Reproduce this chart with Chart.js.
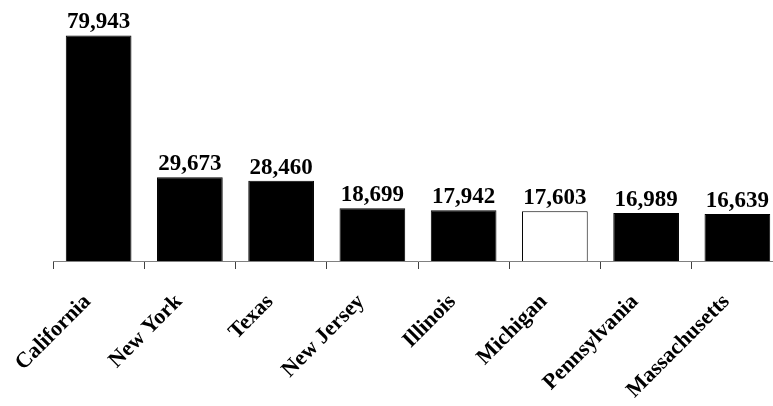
<!DOCTYPE html>
<html>
<head>
<meta charset="utf-8">
<script src="https://cdn.jsdelivr.net/npm/chart.js@4.4.1/dist/chart.umd.min.js"></script>
<style>
html,body{margin:0;padding:0;background:#fff;overflow:hidden;width:773px;height:406px;}
#wrap{width:800px;height:406px;}
</style>
</head>
<body>
<div id="wrap"><canvas id="c" width="800" height="406"></canvas></div>
<script>
const categories = ["California","New York","Texas","New Jersey","Illinois","Michigan","Pennsylvania","Massachusetts"];
const values = [79943, 29673, 28460, 18699, 17942, 17603, 16989, 16639];
const highlight = "Michigan";

const FONT = "'Liberation Serif','Times New Roman',serif";

const valueLabels = {
  id: 'valueLabels',
  afterDatasetsDraw(chart) {
    const ctx = chart.ctx;
    const meta = chart.getDatasetMeta(0);
    ctx.save();
    ctx.font = "bold 23px " + FONT;
    ctx.fillStyle = "#000";
    ctx.textAlign = "center";
    ctx.textBaseline = "alphabetic";
    meta.data.forEach((bar, i) => {
      ctx.fillText(values[i].toLocaleString('en-US'), bar.x, bar.y - 7);
    });
    ctx.restore();
  }
};

new Chart(document.getElementById('c'), {
  type: 'bar',
  data: {
    labels: categories,
    datasets: [{
      data: values,
      backgroundColor: categories.map(c => c === highlight ? '#ffffff' : '#000000'),
      borderColor: '#000000',
      borderWidth: 1,
      barPercentage: 0.72,
      categoryPercentage: 1.0
    }]
  },
  options: {
    responsive: false,
    animation: false,
    layout: { padding: { left: 53, right: 17, top: 7, bottom: 0 } },
    plugins: { legend: { display: false }, tooltip: { enabled: false } },
    scales: {
      y: { display: false, min: 0, max: 90000 },
      x: {
        afterFit(scale) { scale.height = 145; },
        border: { display: true, color: '#808080', width: 1 },
        grid: { display: true, offset: true, drawOnChartArea: false, drawTicks: true, tickLength: 8, color: '#404040' },
        ticks: {
          color: '#000',
          font: { family: FONT, size: 22, weight: 'bold' },
          minRotation: 45, maxRotation: 45,
          padding: 20,
          labelOffset: -11,
          autoSkip: false
        }
      }
    }
  },
  plugins: [valueLabels]
});
</script>
</body>
</html>
